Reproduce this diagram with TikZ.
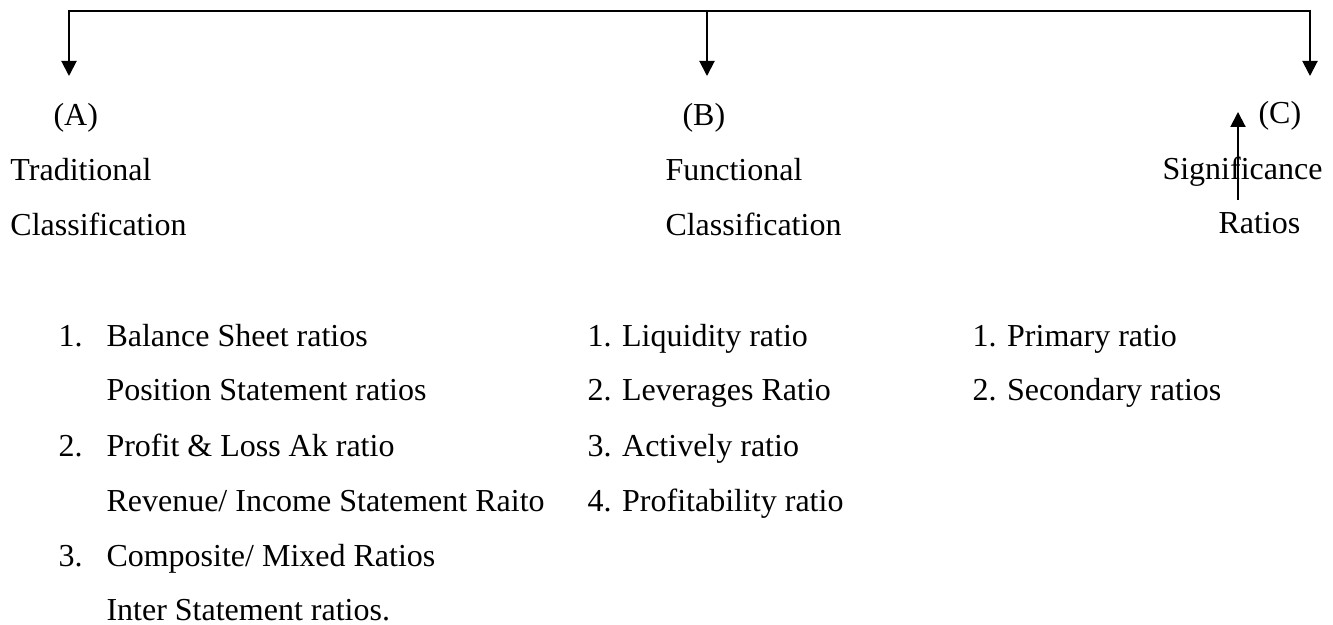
\documentclass[tikz,border=0pt]{standalone}
\usepackage{fontspec}
\setmainfont{Liberation Serif}
\usetikzlibrary{arrows.meta}

\begin{document}
\begin{tikzpicture}[x=0.4pt,y=-0.4pt,>={Triangle[width=6pt,length=6pt]},
  txt/.style={anchor=base west,inner sep=0pt,font=\fontsize{12.8}{15}\selectfont}]
\useasboundingbox (0,0) rectangle (1333,625);
% top bracket
\coordinate (tA) at (69,11);
\coordinate (tB) at (707,11);
\coordinate (tC) at (1310,11);
\coordinate (hA) at (69,76);
\coordinate (hB) at (707,76);
\coordinate (hC) at (1310,76);
\draw[line width=0.8pt,<->] (hA) -- (tA) -- (tC) -- (hC);
\draw[line width=0.8pt,->] (tB) -- (hB);
% headings
\node[txt] (A) at (53,126) {(A)};
\node[txt] (trad) at (10,181) {Traditional};
\node[txt] (clsA) at (10,236) {Classification};
\node[txt] (B) at (682,126) {(B)};
\node[txt] (func) at (665,181) {Functional};
\node[txt] (clsB) at (665,236) {Classification};
\node[txt] (C) at (1258,124) {(C)};
\node[txt] (sig) at (1162,180) {Significance};
\node[txt] (rat) at (1218,234) {Ratios};
\coordinate (sLow) at (1238,200);
\coordinate (sHigh) at (1238,112);
\draw[line width=0.8pt,->] (sLow) -- (sHigh);
% traditional list
\foreach \n/\y in {1/346,2/456,3/566} \node[txt] (numA\n) at (58,\y) {\n.};
\foreach \n/\y/\t in {1/346/{Balance Sheet ratios},2/401/{Position Statement ratios},
  3/456/{Profit \& Loss Ak ratio},4/511/{Revenue/ Income Statement Raito},
  5/566/{Composite/ Mixed Ratios},6/620/{Inter Statement ratios.}}
  \node[txt] (itA\n) at (106,\y) {\t};
% functional list
\foreach \n/\y/\t in {1/346/Liquidity ratio,2/401/Leverages Ratio,3/456/Actively ratio,4/511/Profitability ratio}
  \node[txt] (itB\n) at (587,\y) {\n. \t};
% significance list
\foreach \n/\y/\t in {1/346/Primary ratio,2/401/Secondary ratios}
  \node[txt] (itC\n) at (972,\y) {\n. \t};
\end{tikzpicture}
\end{document}
